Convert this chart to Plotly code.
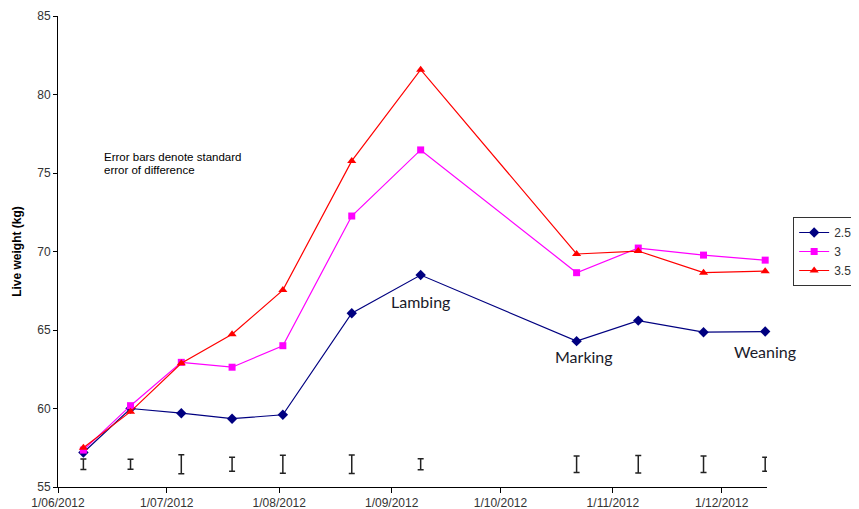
import plotly.graph_objects as go

dates = ["2012-06-08", "2012-06-21", "2012-07-05", "2012-07-19", "2012-08-02",
         "2012-08-21", "2012-09-09", "2012-10-22", "2012-11-08", "2012-11-26", "2012-12-13"]
w25 = [57.2, 60.0, 59.7, 59.35, 59.6, 66.07, 68.5, 64.29, 65.6, 64.86, 64.9]
w30 = [57.35, 60.18, 62.94, 62.63, 64.0, 72.26, 76.47, 68.65, 70.22, 69.77, 69.45]
w35 = [57.5, 59.8, 62.88, 64.73, 67.54, 75.77, 81.58, 69.84, 70.03, 68.65, 68.75]
sed_base = [56.45] * 11
sed_half = [0.34, 0.32, 0.61, 0.45, 0.57, 0.59, 0.35, 0.52, 0.56, 0.52, 0.44]

tick_dates = ["2012-06-01", "2012-07-01", "2012-08-01", "2012-09-01",
              "2012-10-01", "2012-11-01", "2012-12-01"]
tick_text = ["1/06/2012", "1/07/2012", "1/08/2012", "1/09/2012",
             "1/10/2012", "1/11/2012", "1/12/2012"]

note_lines = ["Error bars denote standard", "error of difference"]

events = ["Lambing", "Marking", "Weaning"]
event_dates = ["2012-09-09", "2012-10-24", "2012-12-13"]
event_y = [66.8, 63.3, 63.62]

fig = go.Figure()

fig.add_trace(go.Scatter(
    x=dates, y=sed_base, mode="markers", showlegend=False, hoverinfo="skip",
    marker=dict(size=1, color="rgba(0,0,0,0)"),
    error_y=dict(type="data", array=sed_half, visible=True,
                 color="#222222", thickness=1.5, width=3),
    cliponaxis=False))

series = [("2.5", w25, "#000080", "diamond", 8),
          ("3", w30, "#FF00FF", "square", 7),
          ("3.5", w35, "#FF0000", "triangle-up", 8)]
for name, vals, col, sym, sz in series:
    fig.add_trace(go.Scatter(
        x=dates, y=vals, name=name, mode="lines+markers",
        line=dict(color=col, width=1.2),
        marker=dict(symbol=sym, size=sz, color=col),
        cliponaxis=False))

for i, line in enumerate(note_lines):
    fig.add_annotation(
        text=line, xref="paper", yref="paper",
        x=0.062, y=0.7006 - i * 0.0276, xanchor="left", yanchor="middle",
        showarrow=False, align="left",
        font=dict(family="Arial, Liberation Sans", size=11.5, color="#000000"))

for t, d, yv in zip(events, event_dates, event_y):
    fig.add_annotation(text=t, x=d, y=yv, showarrow=False,
                       font=dict(family="Lato", size=16, color="#1a1a2a"))

fig.update_layout(
    width=851, height=501,
    margin=dict(l=50, r=92, t=8, b=22, autoexpand=False),
    paper_bgcolor="white", plot_bgcolor="white",
    font=dict(family="Arial, Liberation Sans", color="#333333"),
    legend=dict(xref="container", yref="container",
                x=0.999, y=0.5828, xanchor="right", yanchor="top",
                bordercolor="#333333", borderwidth=1,
                font=dict(size=12, color="#333333"),
                itemwidth=30, tracegroupgap=0),
    xaxis=dict(range=["2012-06-01", "2012-12-13 12:00"], tickvals=tick_dates,
               ticktext=tick_text, showgrid=False, zeroline=False,
               showline=True, linecolor="#000000", linewidth=1,
               ticks="outside", ticklen=5, tickcolor="#000000",
               automargin=False,
               tickfont=dict(size=12, color="#333333")),
    yaxis=dict(range=[55, 85], dtick=5, showgrid=False, zeroline=False,
               showline=True, linecolor="#000000", linewidth=1,
               ticks="outside", ticklen=4, tickcolor="#000000",
               automargin=False,
               tickfont=dict(size=12, color="#333333"),
               title=dict(text="<b>Live weight (kg)</b>", standoff=13,
                          font=dict(size=12, color="#000000"))),
)

fig.write_html("out.html")
